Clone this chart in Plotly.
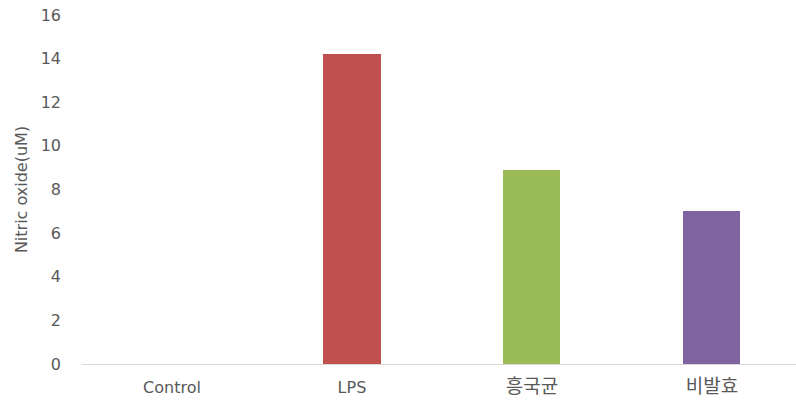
import plotly.graph_objects as go

# Nitric oxide production per treatment group
categories = ["Control", "LPS", "흥국균", "비발효"]
nitric_oxide = [0.0, 14.2, 8.9, 7.0]
bar_colors = ["#4F81BD", "#C0504D", "#9BBB59", "#8064A2"]
y_ticks = [0, 2, 4, 6, 8, 10, 12, 14, 16]

font_family = "DejaVu Sans, Noto Sans CJK KR, sans-serif"
text_color = "#595959"


def tick_label(name):
    # Hangul labels are drawn a little larger, in the CJK face
    if any("\uac00" <= ch <= "\ud7a3" for ch in name):
        return ('<span style="font-family:\'Noto Sans CJK KR\';font-size:19px">'
                + name + "</span>")
    return name


fig = go.Figure(
    go.Bar(
        x=categories,
        y=nitric_oxide,
        marker=dict(color=bar_colors, line=dict(width=0)),
        width=0.317,
    )
)

fig.update_layout(
    width=796,
    height=404,
    margin=dict(l=82, r=0, t=15, b=40),
    paper_bgcolor="white",
    plot_bgcolor="white",
    showlegend=False,
    font=dict(family=font_family, size=16, color=text_color),
    bargap=0,
)

fig.update_xaxes(
    range=[-0.5, 3.467],
    tickvals=categories,
    ticktext=[tick_label(c) for c in categories],
    showline=True,
    linecolor="#D9D9D9",
    linewidth=1,
    showgrid=False,
    ticks="",
    ticklabelstandoff=9,
    tickfont=dict(size=16, color=text_color),
)

fig.update_yaxes(
    range=[0, 16],
    tickvals=y_ticks,
    showgrid=False,
    showline=False,
    zeroline=False,
    ticks="",
    ticklabelstandoff=20,
    tickfont=dict(size=16, color=text_color),
    title=dict(text="Nitric oxide(uM)", font=dict(size=16, color=text_color), standoff=9),
)

fig.write_html("out.html")
